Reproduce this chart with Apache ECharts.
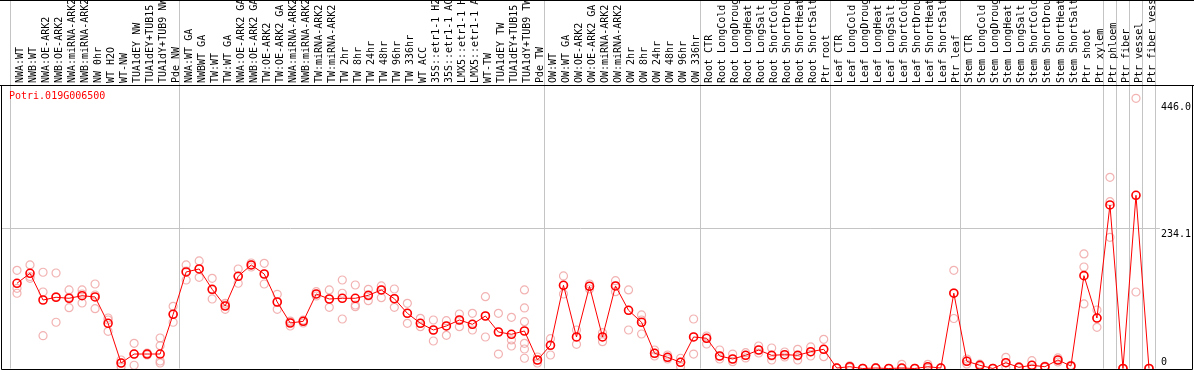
<!DOCTYPE html>
<html><head><meta charset="utf-8">
<script src="https://cdn.jsdelivr.net/npm/echarts@6/dist/echarts.min.js"></script>
<style>html,body{margin:0;padding:0;background:#fff}#c{width:1194px;height:370px}</style>
</head><body><div id="c"></div>
<script>
const chartTitle = 'Potri.019G006500';

const categories = [
  'NWA:WT','NWB:WT','NWA:OE-ARK2','NWB:OE-ARK2','NWA:miRNA-ARK2','NWB:miRNA-ARK2','NW 0hr','WT H2O','WT-NW',
  'TUA1dEY NW','TUA1dEY+TUB15 NW','TUA1dY+TUB9 NW','Pde NW',
  'NWA:WT GA','NWBWT GA','TW:WT','TW:WT GA','NWA:OE-ARK2 GA','NWB:OE-ARK2 GA','TW:OE-ARK2','TW:OE-ARK2 GA',
  'NWA:miRNA-ARK2 GA','NWB:miRNA-ARK2 GA','TW:miRNA-ARK2','TW:miRNA-ARK2 GA','TW 2hr','TW 8hr','TW 24hr','TW 48hr',
  'TW 96hr','TW 336hr','WT ACC','35S::etr1-1 H2O','35S::etr1-1 ACC','LMX5::etr1-1 H2O','LMX5::etr1-1 ACC','WT-TW',
  'TUA1dEY TW','TUA1dEY+TUB15 TW','TUA1dY+TUB9 TW','Pde TW',
  'OW:WT','OW:WT GA','OW:OE-ARK2','OW:OE-ARK2 GA','OW:miRNA-ARK2','OW:miRNA-ARK2 GA','OW 2hr','OW 8hr','OW 24hr',
  'OW 48hr','OW 96hr','OW 336hr',
  'Root CTR','Root LongCold','Root LongDrought','Root LongHeat','Root LongSalt','Root ShortCold','Root ShortDrought',
  'Root ShortHeat','Root ShortSalt','Ptr root',
  'Leaf CTR','Leaf LongCold','Leaf LongDrought','Leaf LongHeat','Leaf LongSalt','Leaf ShortCold','Leaf ShortDrought',
  'Leaf ShortHeat','Leaf ShortSalt','Ptr leaf',
  'Stem CTR','Stem LongCold','Stem LongDrought','Stem LongHeat','Stem LongSalt','Stem ShortCold','Stem ShortDrought',
  'Stem ShortHeat','Stem ShortSalt','Ptr shoot','Ptr xylem',
  'Ptr phloem','Ptr fiber','Ptr vessel','Ptr fiber vessel'
];

const meanValues = [
  142.5,159.2,114.5,119.1,117.4,121.7,119.6,75.6,9.2,24.2,24.2,24.2,90.6,
  161.4,166.4,132.4,104.5,154.2,173.1,158.0,111.2,76.1,78.9,124.6,116.2,117.4,117.4,122.4,131.3,116.7,92.3,75.6,
  64.4,71.1,81.1,73.9,87.8,61.0,57.2,62.7,14.2,
  38.8,139.1,52.7,137.5,52.7,138.0,97.3,77.3,25.4,18.7,10.4,52.7,
  50.5,20.9,15.9,22.1,30.9,22.1,23.1,22.1,28.1,32.1,
  0.8,3.0,0,0.8,0,0.8,0,3.0,0.8,125.9,
  12.0,5.4,0,9.7,2.0,5.4,3.0,14.2,4.2,155.2,84.4,
  273.4,0,289.6,0
];

const replicateValues = [
  [164.2,134.1,125.8],[173.1,153.8,150.8],[160.9,127.9,54.8],[159.7,120.1,77.3],[131.3,119.1,101.7],
  [131.3,124.6,109.5],[141.3,122.9,100.0],[84.4,81.1,62.2],[14.2,9.2,3.0],[42.1,24.2,5.4],[25.9,24.2,22.6],
  [51.0,38.1,12.5,9.2],[104.0,91.1,77.3],
  [173.1,163.0,148.0],[179.8,166.4,152.5],[150.8,131.3,116.2],[109.0,106.2,99.0],[166.4,154.2,142.5],
  [176.4,173.1,169.7],[175.9,158.0,141.3],[124.1,111.2,99.0],[79.4,77.8,71.1],[81.1,78.9,76.1],
  [128.4,124.6,121.2],[131.3,116.2,102.3],[148.0,125.8,82.8],[139.6,106.2,103.3],[132.4,121.2,113.4],
  [138.0,131.3,118.4],[132.9,116.7,102.3],[109.0,92.3,75.6],[83.9,75.6,69.9],
  [81.1,64.4,46.0],[79.9,71.1,55.5],[91.1,81.1,69.9],[92.3,73.9,64.4],[120.1,87.8,52.7],[92.3,61.0,24.2],
  [85.6,47.7,37.6],[131.3,101.2,78.3,42.1,32.6,17.1],[19.2,14.2,9.2],
  [49.8,38.8,22.6],[154.7,139.1,124.6],[64.4,52.7,40.5],[141.3,137.5,132.9],[59.9,52.7,44.8],[146.8,138.0,128.4],
  [131.3,97.3,64.4],[89.5,81.1,57.7],[30.9,25.4,20.9],[22.6,18.7,15.9],[17.1,10.4,3.0],[82.8,52.7,24.2],
  [54.3,50.5,41.0],[30.9,20.9,15.9],[24.2,15.9,11.4],[26.4,22.1,17.6],[37.6,30.9,25.9],[34.3,20.9,14.2],
  [27.6,22.6,19.2],[32.1,20.9,14.2],[36.0,27.6,20.9],[48.8,32.1,19.7],
  [0.5,0.8,1.2],[1.5,3.0,4.5],[0,0,0.2],[0.3,0.8,1.3],[0,0,0],[0,0,7.0],[0,0,0.3],[0,1.5,7.0],[0.4,0.8,1.2],
  [164.2,126.3,83.6],
  [15.9,12.5,7.5],[3.5,5.4,7.2],[0,0,0.2],[18.7,9.7,2.5],[1.0,2.0,3.0],[13.0,5.4,0.8],[2.0,3.0,4.0],
  [17.6,14.2,10.9],[3.0,4.2,5.4],[191.5,169.7,107.9],[97.8,84.4,68.9],
  [319.7,278.9,219.4],[0,0,0],[451.8,127.9],[0,0,0]
];

const groupStartIndices = [0,13,41,53,63,73,84,85,86,87];
const yLabelValues = [0, 234.1, 446.0];
const yMax = 474;

const mono = 'DejaVu Sans Mono';
const sepColor = '#c4c4c4';

const scatterData = [];
replicateValues.forEach((reps, i) => reps.forEach(v => scatterData.push([i, v])));

const sepInterval = (idx) => groupStartIndices.indexOf(idx) >= 0;

const chart = echarts.init(document.getElementById('c'), null, {renderer: 'canvas'});
chart.setOption({
  animation: false,
  backgroundColor: '#fff',
  title: {
    text: chartTitle, left: 9, top: 91, padding: 0,
    textStyle: {color: '#ff0000', fontFamily: mono, fontSize: 10, fontWeight: 'normal'}
  },
  grid: [
    {left: 10.5, right: 38.5, top: 0, height: 85},   // separators in label band
    {left: 1, right: 31, top: 85, bottom: 1.5},      // y axis + gridline
    {left: 10.5, right: 38.5, top: 85, bottom: 1.5}, // data
    {left: 13.5, right: 35.5, top: 0, height: 85}    // category labels
  ],
  xAxis: [
    {gridIndex: 0, type: 'category', data: categories, boundaryGap: true,
     axisLine: {show: false}, axisTick: {show: false}, axisLabel: {show: false},
     splitLine: {show: true, interval: sepInterval, lineStyle: {color: sepColor, width: 1}}},
    {gridIndex: 1, type: 'value', show: false},
    {gridIndex: 2, type: 'category', data: categories, boundaryGap: true,
     axisLine: {show: false}, axisTick: {show: false}, axisLabel: {show: false},
     splitLine: {show: true, interval: sepInterval, lineStyle: {color: sepColor, width: 1}}},
    {gridIndex: 3, type: 'category', data: categories, position: 'bottom', boundaryGap: true,
     axisLine: {show: false}, axisTick: {show: false}, splitLine: {show: false},
     axisLabel: {inside: true, rotate: 90, interval: 0, margin: 2, fontFamily: mono, fontSize: 10, color: '#000'}}
  ],
  yAxis: [
    {gridIndex: 0, type: 'value', show: false},
    {gridIndex: 1, type: 'value', position: 'right', min: 0, max: yMax,
     axisLine: {show: false},
     axisTick: {show: false, customValues: yLabelValues},
     axisLabel: {
       customValues: yLabelValues, margin: 1,
       formatter: v => v === 0 ? '{b|0}' : '{t|' + v.toFixed(1) + '}',
       rich: {
         t: {fontFamily: mono, fontSize: 10, color: '#000', padding: [12, 0, 0, 0]},
         b: {fontFamily: mono, fontSize: 10, color: '#000', padding: [0, 0, 12, 0]}
       }
     },
     splitLine: {show: true, lineStyle: {color: ['rgba(0,0,0,0)', sepColor, 'rgba(0,0,0,0)'], width: 1}}},
    {gridIndex: 2, type: 'value', min: 0, max: yMax, show: false, splitLine: {show: false}},
    {gridIndex: 3, type: 'value', show: false}
  ],
  graphic: [
    {type: 'line', shape: {x1: 0, y1: 0.5, x2: 1194, y2: 0.5}, style: {stroke: '#000', lineWidth: 1}, z: 100},
    {type: 'line', shape: {x1: 0, y1: 85.5, x2: 1194, y2: 85.5}, style: {stroke: '#000', lineWidth: 1}, z: 100},
    {type: 'rect', shape: {x: 1.5, y: 85.5, width: 1191, height: 284}, style: {fill: null, stroke: '#000', lineWidth: 1}, z: 100}
  ],
  series: [
    {type: 'scatter', xAxisIndex: 2, yAxisIndex: 2, data: scatterData, symbol: 'circle', symbolSize: 8,
     itemStyle: {color: 'rgba(0,0,0,0)', borderColor: '#ef9f9f', borderWidth: 1.2}, clip: false, silent: true},
    {type: 'line', xAxisIndex: 2, yAxisIndex: 2, data: meanValues, symbol: 'circle', symbolSize: 8, showAllSymbol: true,
     lineStyle: {color: '#ff0000', width: 1},
     itemStyle: {color: 'rgba(0,0,0,0)', borderColor: '#ff0000', borderWidth: 1.6}, clip: false, silent: true}
  ]
});
</script>
</body></html>
